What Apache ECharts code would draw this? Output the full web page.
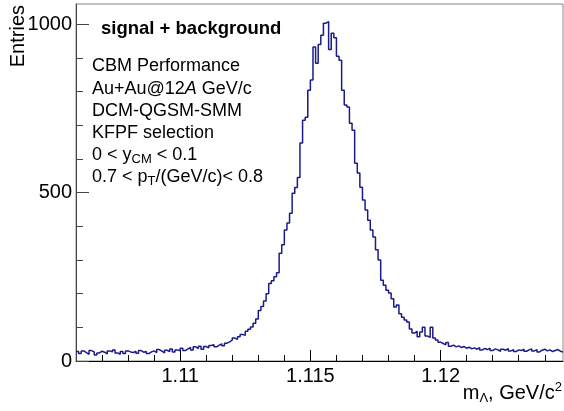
<!DOCTYPE html>
<html>
<head>
<meta charset="utf-8">
<script src="https://cdn.jsdelivr.net/npm/echarts@6/dist/echarts.min.js"></script>
<style>html,body{margin:0;padding:0;background:#fff;}#c{width:564px;height:411px;}</style>
</head>
<body>
<div id="c"></div>
<script>
// Histogram: invariant mass of Lambda candidates, bin width 0.0001 GeV/c^2
const binLow = 1.106;
const binWidth = 0.0001;
const counts = [
  28, 22, 30, 25, 20, 31, 27, 18, 24, 29,
  26, 21, 30, 27, 33, 24, 20, 28, 22, 30,
  27, 25, 29, 23, 31, 26, 28, 22, 27, 30,
  25, 34, 29, 24, 32, 28, 36, 27, 33, 30,
  38, 31, 36, 40, 33, 42, 37, 44, 35, 43,
  39, 46, 48, 42, 47, 51, 45, 53, 57, 62,
  68, 64, 72, 79, 76, 88, 94, 101, 112, 125,
  150, 162, 178, 200, 230, 238, 250, 262, 320, 345,
  389, 410, 439, 498, 515, 545, 647, 715, 724, 804,
  834, 932, 884, 940, 967, 1003, 1008, 925, 973, 960,
  905, 893, 804, 760, 754, 706, 685, 587, 558, 516,
  478, 448, 418, 389, 368, 330, 300, 240, 225, 210,
  202, 185, 160, 166, 140, 130, 122, 116, 95, 83,
  88, 72, 86, 100, 74, 70, 100, 68, 62, 56,
  52, 48, 55, 44, 47, 42, 45, 40, 43, 38,
  41, 36, 39, 35, 40, 33, 37, 34, 38, 31,
  36, 33, 29, 35, 32, 37, 30, 34, 28, 33,
  31, 35, 29, 33, 36, 30, 34, 27, 32, 35,
  30, 33, 28, 31, 34, 29, 27
];
const xMin = 1.106, xMax = 1.1247;
const yMin = 0, yMax = 1060;
const xMajorTicks = [1.11, 1.115, 1.12];
const xTickLabels = ['1.11', '1.115', '1.12'];
const xMinorTicks = [1.107, 1.108, 1.109, 1.111, 1.112, 1.113, 1.114, 1.116, 1.117, 1.118, 1.119, 1.121, 1.122, 1.123, 1.124];
const yMajorTicks = [0, 500, 1000];
const yTickLabels = ['0', '500', '1000'];
const yMinorTicks = [100, 200, 300, 400, 600, 700, 800, 900];
const histTitle = 'signal + background';
const xTitle = ['m', 'Λ', ', GeV/c', '2'];
const yTitle = 'Entries';

const FONT = "'Liberation Sans', Arial, Helvetica, sans-serif";

const data = counts.map((c, i) => [binLow + i * binWidth, c]);
data.push([binLow + counts.length * binWidth, counts[counts.length - 1]]);

const chart = echarts.init(document.getElementById('c'), null, {renderer: 'canvas'});

function lbl(values, labels) {
  return v => {
    for (let i = 0; i < values.length; i++) if (Math.abs(values[i] - v) < 1e-9) return labels[i];
    return '';
  };
}

const txt = {fontSize: 18, fontFamily: FONT, color: '#000', lineHeight: 22, verticalAlign: 'middle'};
const sub = {fontSize: 13, fontFamily: FONT, color: '#000', lineHeight: 10, verticalAlign: 'bottom'};
function line(y, text) {
  return {type: 'text', x: 92, y: y - 17, z: 10,
    style: {text: text, align: 'left', verticalAlign: 'top',
      rich: {n: txt, s: sub, i: Object.assign({}, txt, {fontStyle: 'italic'})}}};
}

chart.setOption({
  animation: false,
  backgroundColor: '#fff',
  grid: {left: 76, right: 1, top: 4, bottom: 50, show: true, borderColor: '#888', borderWidth: 1},
  xAxis: [{
    type: 'value', min: xMin, max: xMax,
    axisLine: {show: true, lineStyle: {color: '#000', width: 1}},
    axisTick: {show: true, inside: true, length: 11, customValues: xMajorTicks, lineStyle: {color: '#000'}},
    axisLabel: {customValues: xMajorTicks, formatter: lbl(xMajorTicks, xTickLabels),
      fontSize: 20, fontFamily: FONT, color: '#000', margin: 5},
    splitLine: {show: false}
  }, {
    type: 'value', min: xMin, max: xMax, position: 'bottom',
    axisLine: {show: false},
    axisTick: {show: true, inside: true, length: 6, customValues: xMinorTicks, lineStyle: {color: '#000'}},
    axisLabel: {show: false}, splitLine: {show: false}
  }],
  yAxis: [{
    type: 'value', min: yMin, max: yMax,
    axisLine: {show: true, lineStyle: {color: '#444', width: 1}},
    axisTick: {show: true, inside: true, length: 13, customValues: yMajorTicks, lineStyle: {color: '#444'}},
    axisLabel: {customValues: yMajorTicks, formatter: lbl(yMajorTicks, yTickLabels),
      fontSize: 20, fontFamily: FONT, color: '#000', margin: 4},
    splitLine: {show: false}
  }, {
    type: 'value', min: yMin, max: yMax, position: 'left',
    axisLine: {show: false},
    axisTick: {show: true, inside: true, length: 7, customValues: yMinorTicks, lineStyle: {color: '#444'}},
    axisLabel: {show: false}, splitLine: {show: false}
  }],
  series: [{
    type: 'line', xAxisIndex: 0, yAxisIndex: 0,
    data: data, step: 'end', showSymbol: false, symbol: 'none',
    lineStyle: {color: '#1b1b87', width: 1.5},
    silent: true
  }],
  graphic: [
    {type: 'text', x: 101, y: 34 - 15, z: 10,
      style: {text: histTitle, fontSize: 18.5, fontWeight: 'bold', fontFamily: FONT, fill: '#000', align: 'left', verticalAlign: 'top'}},
    line(72, '{n|CBM Performance}'),
    line(95, '{n|Au+Au@12}{i|A}{n| GeV/c}'),
    line(117, '{n|DCM-QGSM-SMM}'),
    line(139, '{n|KFPF selection}'),
    line(161, '{n|0 < y}{s|CM}{n| < 0.1}'),
    line(183, '{n|0.7 < p}{s|T}{n|/(GeV/c)< 0.8}'),
    {type: 'text', x: 562, y: 381, z: 10,
      style: {text: '{n|' + xTitle[0] + '}{s|' + xTitle[1] + '}{n|' + xTitle[2] + '}{p|' + xTitle[3] + '}',
        align: 'right', verticalAlign: 'top',
        rich: {
          n: {fontSize: 20, fontFamily: FONT, color: '#000', lineHeight: 24, verticalAlign: 'middle'},
          s: {fontSize: 13, fontFamily: FONT, color: '#000', lineHeight: 12, verticalAlign: 'bottom'},
          p: {fontSize: 13, fontFamily: FONT, color: '#000', lineHeight: 12, verticalAlign: 'top'}
        }}},
    {type: 'text', x: 18, y: 5, rotation: Math.PI / 2, z: 10,
      style: {text: yTitle, fontSize: 20, fontFamily: FONT, fill: '#000', align: 'right', verticalAlign: 'middle'}}
  ]
});
</script>
</body>
</html>
